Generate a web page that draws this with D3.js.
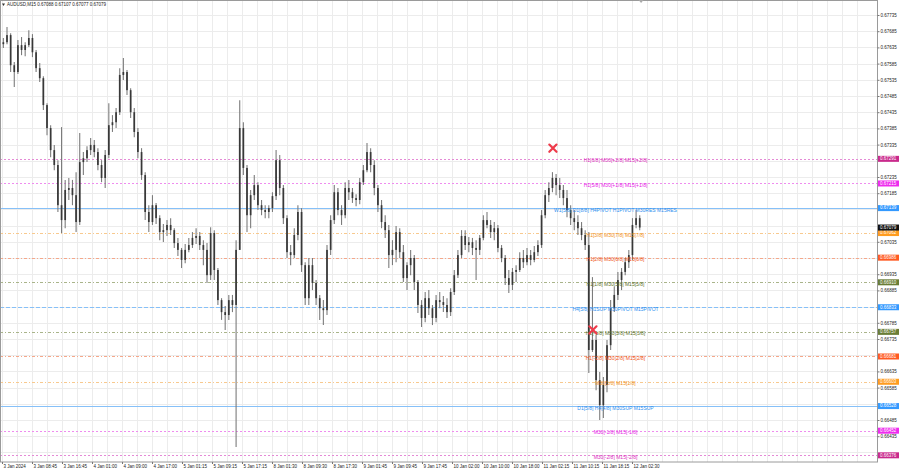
<!DOCTYPE html>
<html><head><meta charset="utf-8">
<script src="https://cdn.jsdelivr.net/npm/d3@7"></script>
<style>
html,body{margin:0;padding:0;background:#fff;overflow:hidden;}
svg{display:block;font-family:"Liberation Sans",Arial,sans-serif;}
</style></head><body>
<svg id="c" width="900" height="468"></svg>
<script>
// ---------------- data ----------------
const chartTitle = "AUDUSD,M15  0.67088 0.67107 0.67077 0.67079";
// hourly aggregated candles (each covers 4 M15 bars), starting 3 Jan 2024 00:00
const opens = [0.67645,0.67651,0.67673,0.67580,0.67559,0.67642,0.67627,0.67642,0.67664,0.67620,0.67571,0.67540,0.67457,0.67386,0.67318,0.67272,0.67148,0.67102,0.67195,0.67201,0.67179,0.67096,0.67281,0.67293,0.67318,0.67334,0.67312,0.67272,0.67232,0.67303,0.67395,0.67404,0.67435,0.67550,0.67559,0.67503,0.67435,0.67374,0.67312,0.67241,0.67127,0.67096,0.67148,0.67108,0.67065,0.67071,0.67087,0.67071,0.67031,0.67010,0.66979,0.67010,0.67025,0.67047,0.67053,0.67025,0.67010,0.66932,0.67062,0.66948,0.66855,0.66818,0.66809,0.66855,0.66840,0.67010,0.67386,0.67263,0.67117,0.67179,0.67210,0.67148,0.67133,0.67127,0.67139,0.67176,0.67287,0.67201,0.67108,0.67003,0.66994,0.67056,0.67127,0.66963,0.66861,0.66963,0.66908,0.66861,0.66830,0.66824,0.67010,0.67102,0.67188,0.67133,0.67117,0.67201,0.67188,0.67170,0.67164,0.67219,0.67256,0.67312,0.67272,0.67201,0.67148,0.67096,0.67071,0.66994,0.67010,0.67065,0.67003,0.66923,0.66963,0.66985,0.66911,0.66840,0.66800,0.66861,0.66830,0.66800,0.66855,0.66849,0.66840,0.66818,0.66880,0.66932,0.66994,0.67053,0.67025,0.67034,0.67016,0.67010,0.67047,0.67102,0.67087,0.67065,0.67077,0.67016,0.66985,0.66923,0.66902,0.66942,0.66948,0.66985,0.66972,0.66994,0.66979,0.67003,0.67025,0.67117,0.67179,0.67201,0.67232,0.67210,0.67195,0.67170,0.67133,0.67108,0.67096,0.67077,0.67056,0.67025,0.66701,0.66732,0.66608,0.66531,0.66593,0.66716,0.66830,0.66871,0.66917,0.66942,0.66972,0.66994,0.67087,0.67108];
const highs = [0.67664,0.67698,0.67679,0.67590,0.67658,0.67667,0.67651,0.67688,0.67676,0.67627,0.67587,0.67546,0.67463,0.67395,0.67334,0.67287,0.67389,0.67226,0.67232,0.67226,0.67250,0.67371,0.67312,0.67330,0.67355,0.67349,0.67324,0.67287,0.67318,0.67463,0.67426,0.67448,0.67571,0.67602,0.67565,0.67509,0.67448,0.67386,0.67324,0.67250,0.67148,0.67179,0.67155,0.67117,0.67090,0.67102,0.67108,0.67077,0.67047,0.67016,0.67028,0.67047,0.67065,0.67077,0.67065,0.67040,0.67031,0.67080,0.67071,0.66954,0.66861,0.66837,0.66871,0.66871,0.67040,0.67472,0.67404,0.67272,0.67195,0.67241,0.67219,0.67164,0.67148,0.67148,0.67188,0.67318,0.67303,0.67210,0.67117,0.67025,0.67077,0.67148,0.67139,0.66972,0.66985,0.66985,0.66917,0.66871,0.66855,0.67025,0.67117,0.67210,0.67201,0.67148,0.67219,0.67226,0.67201,0.67182,0.67232,0.67272,0.67340,0.67324,0.67287,0.67210,0.67164,0.67117,0.67087,0.67040,0.67084,0.67077,0.67025,0.66972,0.67010,0.66994,0.66917,0.66855,0.66880,0.66886,0.66840,0.66871,0.66880,0.66868,0.66861,0.66892,0.66948,0.67010,0.67071,0.67071,0.67050,0.67047,0.67040,0.67056,0.67117,0.67127,0.67102,0.67096,0.67087,0.67025,0.66994,0.66948,0.66954,0.66963,0.67003,0.67010,0.67016,0.67010,0.67022,0.67040,0.67133,0.67195,0.67219,0.67250,0.67244,0.67232,0.67210,0.67195,0.67148,0.67133,0.67117,0.67096,0.67071,0.67065,0.66926,0.66747,0.66633,0.66618,0.66732,0.66855,0.66896,0.66942,0.66954,0.66985,0.67010,0.67108,0.67133,0.67117];
const lows = [0.67633,0.67645,0.67559,0.67513,0.67553,0.67611,0.67608,0.67636,0.67605,0.67559,0.67528,0.67442,0.67364,0.67296,0.67256,0.67127,0.67062,0.67077,0.67164,0.67148,0.67065,0.67087,0.67241,0.67281,0.67303,0.67296,0.67256,0.67219,0.67201,0.67293,0.67374,0.67386,0.67426,0.67534,0.67488,0.67417,0.67358,0.67293,0.67226,0.67102,0.67065,0.67087,0.67090,0.67040,0.67034,0.67053,0.67056,0.67016,0.66991,0.66954,0.66969,0.67003,0.67016,0.67028,0.67010,0.66963,0.66908,0.66917,0.66917,0.66840,0.66794,0.66763,0.66794,0.66818,0.66402,0.67010,0.67241,0.67065,0.67077,0.67164,0.67133,0.67117,0.67108,0.67108,0.67127,0.67164,0.67179,0.67090,0.66985,0.66963,0.66985,0.67040,0.66942,0.66840,0.66840,0.66886,0.66840,0.66794,0.66778,0.66809,0.66994,0.67090,0.67117,0.67087,0.67108,0.67164,0.67155,0.67145,0.67151,0.67210,0.67250,0.67250,0.67179,0.67127,0.67077,0.67047,0.66954,0.66963,0.66972,0.66985,0.66911,0.66886,0.66932,0.66886,0.66815,0.66772,0.66787,0.66809,0.66778,0.66787,0.66830,0.66818,0.66800,0.66806,0.66871,0.66923,0.66985,0.67010,0.67003,0.66994,0.66917,0.66994,0.67040,0.67077,0.67047,0.67040,0.67003,0.66972,0.66902,0.66877,0.66886,0.66911,0.66942,0.66954,0.66963,0.66963,0.66972,0.66991,0.67016,0.67108,0.67158,0.67188,0.67179,0.67170,0.67148,0.67111,0.67087,0.67071,0.67056,0.67040,0.67010,0.66630,0.66695,0.66577,0.66485,0.66491,0.66571,0.66701,0.66818,0.66855,0.66886,0.66932,0.66954,0.66979,0.67077,0.67071];
const closes = [0.67651,0.67673,0.67580,0.67559,0.67642,0.67627,0.67642,0.67664,0.67620,0.67571,0.67540,0.67457,0.67386,0.67318,0.67272,0.67148,0.67102,0.67195,0.67201,0.67179,0.67096,0.67281,0.67293,0.67318,0.67334,0.67312,0.67272,0.67232,0.67303,0.67395,0.67404,0.67435,0.67550,0.67559,0.67503,0.67435,0.67374,0.67312,0.67241,0.67127,0.67096,0.67148,0.67108,0.67065,0.67071,0.67087,0.67071,0.67031,0.67010,0.66979,0.67010,0.67025,0.67047,0.67053,0.67025,0.67010,0.66932,0.67062,0.66948,0.66855,0.66818,0.66809,0.66855,0.66840,0.67010,0.67386,0.67263,0.67117,0.67179,0.67210,0.67148,0.67133,0.67127,0.67139,0.67176,0.67287,0.67201,0.67108,0.67003,0.66994,0.67056,0.67127,0.66963,0.66861,0.66963,0.66908,0.66861,0.66830,0.66824,0.67010,0.67102,0.67188,0.67133,0.67117,0.67201,0.67188,0.67170,0.67164,0.67219,0.67256,0.67312,0.67272,0.67201,0.67148,0.67096,0.67071,0.66994,0.67010,0.67065,0.67003,0.66923,0.66963,0.66985,0.66911,0.66840,0.66800,0.66861,0.66830,0.66800,0.66855,0.66849,0.66840,0.66818,0.66880,0.66932,0.66994,0.67053,0.67025,0.67034,0.67016,0.67010,0.67047,0.67102,0.67087,0.67065,0.67077,0.67016,0.66985,0.66923,0.66902,0.66942,0.66948,0.66985,0.66972,0.66994,0.66979,0.67003,0.67025,0.67117,0.67179,0.67201,0.67232,0.67210,0.67195,0.67170,0.67133,0.67108,0.67096,0.67077,0.67056,0.67025,0.66701,0.66732,0.66608,0.66531,0.66593,0.66716,0.66830,0.66871,0.66917,0.66942,0.66972,0.66994,0.67087,0.67108,0.67079];
const timeTickLabels = ["3 Jan 2024","3 Jan 08:45","3 Jan 16:45","4 Jan 01:00","4 Jan 09:00","4 Jan 17:00","5 Jan 01:15","5 Jan 09:15","5 Jan 17:15","8 Jan 01:30","8 Jan 09:30","8 Jan 17:30","9 Jan 01:45","9 Jan 09:45","9 Jan 17:45","10 Jan 02:00","10 Jan 10:00","10 Jan 18:00","11 Jan 02:15","11 Jan 10:15","11 Jan 18:15","12 Jan 02:30"];
const barsPerTimeTick = 33; // M15 bars between time labels
const priceTicks = [0.67735,0.67685,0.67635,0.67585,0.67535,0.67485,0.67435,0.67385,0.67335,0.67285,0.67235,0.67185,0.67135,0.67085,0.67035,0.66985,0.66935,0.66885,0.66835,0.66785,0.66735,0.66685,0.66635,0.66585,0.66535,0.66485,0.66435,0.66385];
const levelPrices = [0.67291,0.67215,0.67139,0.67062,0.66986,0.66910,0.66833,0.66757,0.66681,0.66603,0.66528,0.66452,0.66376];
const levelTexts = ["H1[6/8] M30[+2/8] M15[+2/8]","H1[5/8] M30[+1/8] M15[+1/8]","W1[5/8] D1[8/8] H4PIVOT H1PIVOT M30RES M15RES","H1[3/8] M30[7/8] M15[7/8]","H1[2/8] M30[6/8] M15[6/8]","H1[1/8] M30[5/8] M15[5/8]","H4[5/8] H1SUP M30PIVOT M15PIVOT","H1[-1/8] M30[3/8] M15[3/8]","H1[-2/8] M30[2/8] M15[2/8]","M30[1/8] M15[1/8]","D1[5/8] H4[4/8] M30SUP M15SUP","M30[-1/8] M15[-1/8]","M30[-2/8] M15[-2/8]"];
const currentPrice = 0.67079;
const signalBars = [606, 650];        // M15 bar index of the X markers
const signalPrices = [0.67324, 0.66763];

// ---------------- styles ----------------
const levelKinds = ["pink2","pink1","blueSolid","orange","red","olive","blueDash","olive","red","orange","blueSolid","pink1","pink2"];
const kindStyle = {
  pink2:{box:"#c92a8c",text:"#dc2fc0",line:"#e58ad6",dash:"2,2"},
  pink1:{box:"#ee2cee",text:"#e622e6",line:"#ef8cef",dash:"2,2"},
  blueSolid:{box:"#3399ff",text:"#2f8fef",line:"#86c0f8",dash:null},
  blueDash:{box:"#3399ff",text:"#2f8fef",line:"#86c0f8",dash:"4,2"},
  orange:{box:"#ff9c1f",text:"#f0901a",line:"#f8c98e",dash:"3,2,1,2"},
  red:{box:"#ff5a22",text:"#ee5422",line:"#f5a78a",dash:"3,2,1,2"},
  olive:{box:"#6a7d36",text:"#5d722a",line:"#a9b48a",dash:"3,2,1,2"}
};

// ---------------- layout ----------------
const svg = d3.select("#c");
const W = 900, H = 468;
const plotRight = 877, plotBottom = 462;
svg.append("rect").attr("width",W).attr("height",H).attr("fill","#fff");

const nBarsToLastTick = barsPerTimeTick*(timeTickLabels.length-1);
const x = d3.scaleLinear().domain([0, nBarsToLastTick]).range([2, 632]);
const y = d3.scaleLinear().domain([0.66385, 0.67735]).range([452.4, 15]);

// grid
const grid = svg.append("g");
const vgrid = d3.range(0, 58).map(k => k*barsPerTimeTick/2).filter(b => x(b) < plotRight);
grid.selectAll("line.v").data(vgrid).join("line")
  .attr("x1", d=>Math.round(x(d))+0.5).attr("x2", d=>Math.round(x(d))+0.5)
  .attr("y1", 1).attr("y2", plotBottom).attr("stroke","#ececec").attr("stroke-width",1);
grid.selectAll("line.h").data(priceTicks).join("line")
  .attr("x1", 0).attr("x2", plotRight)
  .attr("y1", d=>Math.round(y(d))+0.5).attr("y2", d=>Math.round(y(d))+0.5)
  .attr("stroke","#ececec").attr("stroke-width",1);

// level lines
const levels = levelPrices.map((p,i)=>({p, t:levelTexts[i], s:kindStyle[levelKinds[i]]}));
svg.append("g").selectAll("line").data(levels).join("line")
  .attr("x1",0).attr("x2",plotRight)
  .attr("y1",d=>Math.round(y(d.p))+0.5).attr("y2",d=>Math.round(y(d.p))+0.5)
  .attr("stroke",d=>d.s.line).attr("stroke-width",1)
  .attr("stroke-dasharray",d=>d.s.dash);

// candles
const idx = d3.range(opens.length);
const cx = i => x(4*i+1.5);
const cg = svg.append("g");
cg.selectAll("line").data(idx).join("line")
  .attr("x1",i=>cx(i)).attr("x2",i=>cx(i))
  .attr("y1",i=>y(highs[i])).attr("y2",i=>y(lows[i]))
  .attr("stroke","#7c7c7c").attr("stroke-width",1.1);
cg.selectAll("rect").data(idx).join("rect")
  .attr("x",i=>cx(i)-0.85).attr("width",1.7)
  .attr("y",i=>y(Math.max(opens[i],closes[i])))
  .attr("height",i=>Math.max(0.8, Math.abs(y(opens[i])-y(closes[i]))))
  .attr("fill","#383838");

// level texts
svg.append("g").selectAll("text").data(levels).join("text")
  .attr("x",615.5).attr("y",d=>y(d.p)+2.2)
  .attr("text-anchor","middle").attr("dominant-baseline","middle")
  .attr("font-size",5).attr("fill",d=>d.s.text).text(d=>d.t);

// signal markers
const sg = svg.append("g");
signalBars.forEach((b,i)=>{
  const px = x(b), py = y(signalPrices[i]), r = 3.6;
  sg.append("path").attr("d",`M${px-r},${py-r}L${px+r},${py+r}M${px+r},${py-r}L${px-r},${py+r}`)
    .attr("stroke","#ee3a4a").attr("stroke-width",2.2).attr("stroke-linecap","round").attr("fill","none");
});

// frame
svg.append("rect").attr("x",0.5).attr("y",0.5).attr("width",plotRight).attr("height",plotBottom-0.5)
  .attr("fill","none").attr("stroke","#9a9a9a").attr("stroke-width",1);

// price label boxes (drawn over the tick labels they cover)
const boxes = levels.map(d=>({p:d.p, fill:d.s.box})).concat([{p:currentPrice, fill:"#111"}]);
const visibleTicks = priceTicks.filter(t => boxes.every(b => Math.abs(y(b.p)-y(t)) > 3.6));

// axes
const yAxis = d3.axisRight(y).tickValues(visibleTicks).tickFormat(d3.format(".5f")).tickSize(2).tickPadding(1);
const ya = svg.append("g").attr("transform",`translate(${plotRight+0.5},0)`).call(yAxis);
ya.select(".domain").remove();
ya.selectAll("line").attr("stroke","#777");
ya.selectAll("text").attr("font-size",4.5).attr("fill","#222").attr("font-family","Liberation Sans, Arial, sans-serif");

const xAxis = d3.axisBottom(x).tickValues(timeTickLabels.map((_,k)=>k*barsPerTimeTick))
  .tickFormat((d,i)=>timeTickLabels[i]).tickSize(2).tickPadding(0.5);
const xa = svg.append("g").attr("transform",`translate(0,${plotBottom})`).call(xAxis);
xa.select(".domain").remove();
xa.selectAll("line").attr("stroke","#777");
xa.selectAll("text").attr("font-size",4.5).attr("fill","#222").attr("text-anchor","start").attr("dx",1)
  .attr("font-family","Liberation Sans, Arial, sans-serif");

const bg = svg.append("g");
boxes.forEach(d=>{
  const py = y(d.p);
  bg.append("rect").attr("x",plotRight+1).attr("y",py-3).attr("width",21).attr("height",6).attr("fill",d.fill);
  bg.append("text").attr("x",plotRight+3).attr("y",py+0.2).attr("dominant-baseline","middle")
    .attr("font-size",4.5).attr("fill","#fff").text(d3.format(".5f")(d.p));
});

// title
svg.append("path").attr("d","M2,3.5L5,3.5L3.5,6Z").attr("fill","#333");
svg.append("text").attr("x",7).attr("y",5).attr("dominant-baseline","middle")
  .attr("font-size",4.5).attr("fill","#222").text(chartTitle);

// chart-shift marker at top
const sx = x(4*(opens.length-1)+3);
svg.append("path").attr("d",`M${sx-2.5},0L${sx+2.5},0L${sx},3Z`).attr("fill","#aaa");
</script>
</body></html>
